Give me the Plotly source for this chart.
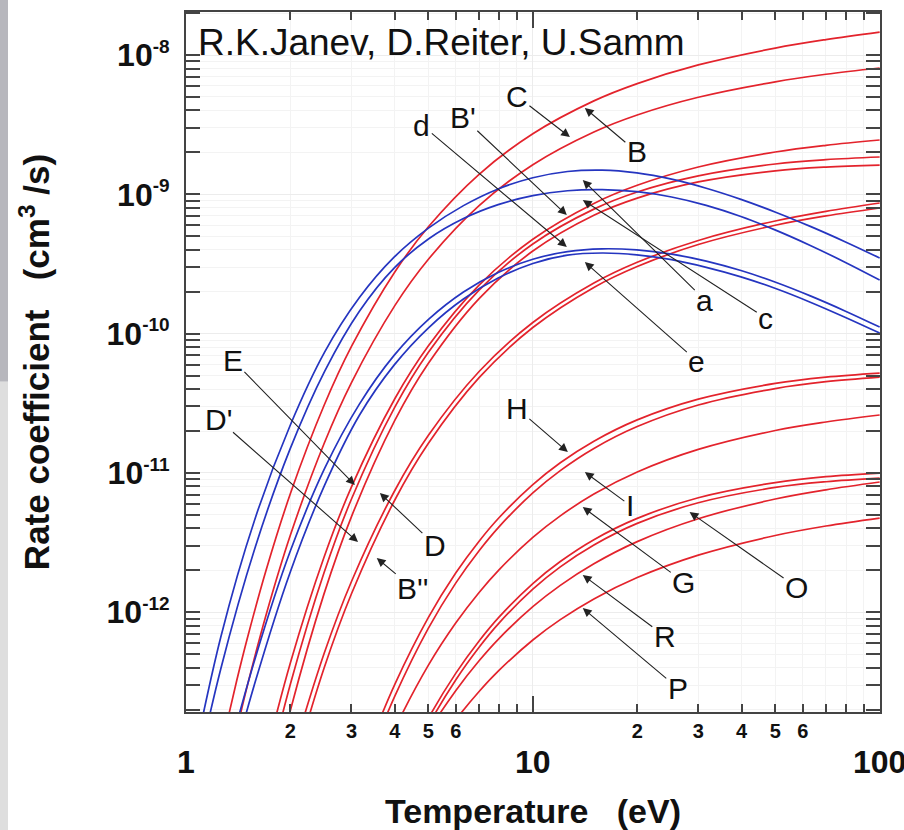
import plotly.graph_objects as go

# ---------------- data (temperature in eV, rate coefficient as log10 of cm^3/s) ----------------
T_upper = [1.2, 1.3, 1.4, 1.5, 1.7, 2, 2.5, 3, 4, 5, 7, 10, 15, 20, 30, 50, 70, 100]
T_B = T_upper
B_log = [-13.236, -12.836, -12.492, -12.194, -11.702, -11.148, -10.516, -10.092, -9.557, -9.233,
         -8.856, -8.565, -8.329, -8.205, -8.071, -7.950, -7.889, -7.835]
T_C = T_upper[1:]
C_log = [-13.203, -12.846, -12.535, -12.023, -11.446, -10.790, -10.351, -9.799, -9.466, -9.081,
         -8.787, -8.552, -8.430, -8.303, -8.192, -8.138, -8.093]
T_mid = T_upper[4:]
Bp_log = [-13.030, -12.362, -11.605, -11.100, -10.467, -10.087, -9.651, -9.322, -9.065, -8.935,
          -8.804, -8.696, -8.648, -8.610]
E_log = [-13.220, -12.515, -11.717, -11.187, -10.527, -10.133, -9.687, -9.356, -9.106, -8.983,
         -8.867, -8.782, -8.751, -8.732]
D_log = [-13.443, -12.704, -11.868, -11.313, -10.623, -10.213, -9.748, -9.407, -9.150, -9.027,
         -8.911, -8.831, -8.804, -8.790]
T_late = T_upper[5:]
Dp_log = [-13.072, -12.298, -11.779, -11.126, -10.730, -10.272, -9.920, -9.637, -9.488, -9.331,
          -9.191, -9.122, -9.062]
Bpp_log = [-13.202, -12.402, -11.867, -11.194, -10.787, -10.316, -9.956, -9.668, -9.518, -9.360,
           -9.222, -9.155, -9.098]

T_low = [3.5, 4, 5, 6, 7, 8, 10, 12, 15, 20, 30, 50, 70, 100]
H_log = [-12.861, -12.517, -12.037, -11.717, -11.490, -11.320, -11.084, -10.927, -10.772, -10.619,
         -10.470, -10.357, -10.312, -10.283]
I_log = [-12.951, -12.602, -12.114, -11.789, -11.558, -11.385, -11.143, -10.983, -10.824, -10.667,
         -10.512, -10.394, -10.345, -10.312]
G_log = [-13.158, -12.835, -12.380, -12.076, -11.858, -11.694, -11.463, -11.308, -11.151, -10.993,
         -10.831, -10.695, -10.634, -10.584]
T_low2 = T_low[1:]
O_log = [-13.251, -12.761, -12.437, -12.206, -12.033, -11.794, -11.636, -11.479, -11.326, -11.178,
         -11.069, -11.027, -11.001]
O2_log = [-13.308, -12.812, -12.484, -12.251, -12.076, -11.834, -11.674, -11.517, -11.362, -11.214,
          -11.104, -11.063, -11.037]
R_log = [-13.299, -12.857, -12.561, -12.348, -12.187, -11.960, -11.807, -11.652, -11.493, -11.329,
         -11.187, -11.121, -11.065]
T_low3 = T_low[2:]
P_log = [-13.052, -12.771, -12.569, -12.416, -12.199, -12.053, -11.904, -11.751, -11.590, -11.449,
         -11.381, -11.324]

# triplet (blue) curves
T_blue = [1.0, 1.259, 1.585, 1.995, 2.512, 3.162, 3.981, 5.012, 6.310, 7.943, 10.0, 12.59, 15.85,
          19.95, 25.12, 31.62, 39.81, 50.12, 63.10, 79.43, 100.0]
a_log = [-13.33, -12.181, -11.321, -10.661, -10.131, -9.741, -9.451, -9.241, -9.081, -8.961, -8.881,
         -8.836, -8.826, -8.846, -8.891, -8.956, -9.036, -9.128, -9.230, -9.340, -9.457]
c_log = [-13.509, -12.409, -11.529, -10.829, -10.269, -9.839, -9.529, -9.319, -9.174, -9.074, -9.009,
         -8.974, -8.966, -8.981, -9.019, -9.079, -9.159, -9.257, -9.367, -9.487, -9.615]
T_blue2 = T_blue[1:]
d_log = [-13.226, -12.326, -11.566, -10.966, -10.506, -10.156, -9.896, -9.701, -9.561, -9.466,
         -9.411, -9.391, -9.399, -9.429, -9.479, -9.547, -9.631, -9.729, -9.837, -9.953]
e_log = [-13.396, -12.496, -11.716, -11.086, -10.586, -10.226, -9.956, -9.751, -9.601, -9.496,
         -9.436, -9.421, -9.434, -9.469, -9.524, -9.592, -9.676, -9.774, -9.882, -9.996]

red_curves = [(T_B, B_log), (T_C, C_log), (T_mid, Bp_log), (T_mid, E_log), (T_mid, D_log),
              (T_late, Dp_log), (T_late, Bpp_log), (T_low, H_log), (T_low, I_log), (T_low, G_log),
              (T_low2, O_log), (T_low2, O2_log), (T_low2, R_log), (T_low3, P_log)]
blue_curves = [(T_blue, a_log), (T_blue, c_log), (T_blue2, d_log), (T_blue2, e_log)]

# labels: text, log10(T) of arrow tip, log10(k) of arrow tip, text offset x, y (px)
lab_text = ["C", "B", "B'", "d", "a", "c", "e", "E", "D", "D'", "B''", "H", "I", "G", "O", "R", "P"]
lab_x = [1.107, 1.150, 1.098, 1.098, 1.144, 1.144, 1.150, 0.487, 0.559, 0.496, 0.550, 1.101, 1.150,
         1.144, 1.452, 1.144, 1.144]
lab_y = [-8.589, -8.380, -9.149, -9.378, -8.897, -9.041, -9.486, -11.087, -11.144, -11.496, -11.611,
         -10.850, -10.994, -11.245, -11.281, -11.733, -11.970]
lab_ax = [-53, 52, -104, -145, 122, 183, 112, -122, 55, -140, 36, -51, 45, 101, 107, 82, 95]
lab_ay = [-41, 44, -98, -122, 120, 118, 99, -125, 52, -123, 30, -44, 33, 75, 75, 61, 80]

x_major = [1, 10, 100]
x_major_text = ["1", "10", "100"]
x_minor_lab = [2, 3, 4, 5, 6, 20, 30, 40, 50, 60]
x_minor_text = ["2", "3", "4", "5", "6", "2", "3", "4", "5", "6"]
y_major = [1e-12, 1e-11, 1e-10, 1e-9, 1e-8]
y_exp = ["-12", "-11", "-10", "-9", "-8"]

# ---------------- figure ----------------
FONT = "Liberation Sans, Arial, Helvetica, sans-serif"
RED = "#e3232c"
BLUE = "#2535c0"

fig = go.Figure()
for T, L in red_curves:
    fig.add_trace(go.Scatter(x=T, y=[10 ** v for v in L], mode="lines",
                             line=dict(color=RED, width=1.7, shape="spline", smoothing=1.0),
                             hoverinfo="skip"))
for T, L in blue_curves:
    fig.add_trace(go.Scatter(x=T, y=[10 ** v for v in L], mode="lines",
                             line=dict(color=BLUE, width=1.7, shape="spline", smoothing=1.0),
                             hoverinfo="skip"))
# empty trace bound to the secondary x axis (carries the small 2..6 tick labels)
fig.add_trace(go.Scatter(x=[], y=[], xaxis="x2", yaxis="y", hoverinfo="skip"))

x_minor_ticks = [2, 3, 4, 5, 6, 7, 8, 9, 20, 30, 40, 50, 60, 70, 80, 90]
y_minor_ticks = [m * 10.0 ** e for e in range(-13, -7) for m in range(2, 10)]
y_minor_ticks = [v for v in y_minor_ticks if 1.9e-13 < v < 2.05e-8]

axis_common = dict(showline=True, linecolor="#444", linewidth=2, mirror="allticks",
                   ticks="inside", tickcolor="#444", tickwidth=1.5, zeroline=False,
                   showgrid=True, gridcolor="#ececec", gridwidth=1, automargin=False)

fig.update_layout(
    width=904, height=830, autosize=False,
    margin=dict(l=186, r=24, t=12, b=118, pad=0),
    paper_bgcolor="white", plot_bgcolor="white",
    showlegend=False,
    font=dict(family=FONT, color="#111"),
    xaxis=dict(type="log", range=[0, 2.001], tickvals=x_major, ticktext=x_major_text,
               ticklen=16, tickfont=dict(size=32, weight=700, color="#111"),
               ticklabelstandoff=21, ticklabeloverflow="allow",
               minor=dict(tickvals=x_minor_ticks, ticks="inside", ticklen=8, tickcolor="#444",
                          tickwidth=1.5, showgrid=True, gridcolor="#f3f3f3"),
               title=dict(text="Temperature\u00a0\u00a0\u00a0(eV)",
                          font=dict(size=34, weight=700, color="#111"), standoff=22),
               **axis_common),
    xaxis2=dict(type="log", range=[0, 2.001], overlaying="x", anchor="y", side="bottom",
                tickvals=x_minor_lab, ticktext=x_minor_text, ticks="", showline=False,
                showgrid=False, zeroline=False, ticklabelstandoff=5, automargin=False,
                tickfont=dict(size=20, weight=700, color="#111")),
    yaxis=dict(type="log", range=[-12.716, -7.691], tickvals=y_major,
               ticktext=["10<sup><span style='font-size:19px'>%s</span></sup>" % e for e in y_exp],
               ticklen=14, tickfont=dict(size=32, weight=700, color="#111"),
               ticklabelstandoff=8,
               minor=dict(tickvals=y_minor_ticks, ticks="inside", ticklen=8, tickcolor="#444",
                          tickwidth=1.5, showgrid=True, gridcolor="#f3f3f3"),
               title=dict(text="Rate coefficient\u00a0\u00a0\u00a0(cm<sup>3</sup> /s)",
                          font=dict(size=35, weight=700, color="#111"), standoff=46),
               **axis_common),
)

# author credit inside the plot
fig.add_annotation(text="R.K.Janev, D.Reiter, U.Samm", xref="paper", yref="paper",
                   x=0.014, y=0.957, xanchor="left", yanchor="middle", showarrow=False,
                   font=dict(size=37, family=FONT, color="#111"))

for t, x, y, ax, ay in zip(lab_text, lab_x, lab_y, lab_ax, lab_ay):
    fig.add_annotation(text=t, x=x, y=y, xref="x", yref="y", ax=ax, ay=ay,
                       showarrow=True, arrowhead=2, arrowsize=1.6, arrowwidth=1.1,
                       arrowcolor="#222", font=dict(size=30, family=FONT, color="#111"))

# grey strip at the left edge of the page
fig.add_shape(type="rect", xref="paper", yref="paper", x0=-0.268, x1=-0.2565, y0=0.4718, y1=1.02,
              fillcolor="#b7b7bd", line=dict(width=0), layer="below")
fig.add_shape(type="rect", xref="paper", yref="paper", x0=-0.268, x1=-0.2565, y0=-0.17, y1=0.4718,
              fillcolor="#dedede", line=dict(width=0), layer="below")

fig.write_html("out.html", config={"displayModeBar": False},
               post_script="document.body.style.margin='0px';")
